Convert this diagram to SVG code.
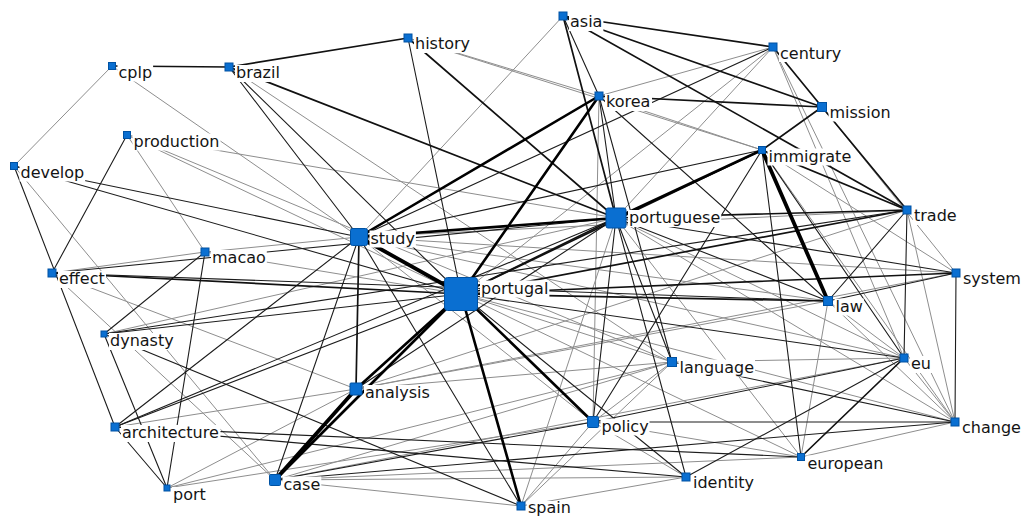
<svg xmlns="http://www.w3.org/2000/svg" width="1022" height="517" viewBox="0 0 1022 517">
<style>
line{stroke-linecap:round}
.g{stroke:#8e8e8e;stroke-width:1}
.t{stroke:#1c1c1c;stroke-width:1.1}
.m{stroke:#111;stroke-width:1.7}
.h{stroke:#000;stroke-width:2.6}
.x{stroke:#000;stroke-width:3.8}
.n{fill:#0a6fd1;stroke:#0052a3;stroke-width:1}
.lb{fill:#fff}
text{font-family:"DejaVu Sans",Verdana,sans-serif;font-size:16px;fill:#141414}
</style>
<rect width="1022" height="517" fill="#fff"/>
<g id="edges">
<line class="g" x1="112" y1="66" x2="14" y2="166"/>
<line class="g" x1="112" y1="66" x2="359" y2="237"/>
<line class="g" x1="229" y1="67" x2="672" y2="362"/>
<line class="g" x1="408" y1="38" x2="762" y2="150"/>
<line class="g" x1="563" y1="16" x2="359" y2="237"/>
<line class="g" x1="773" y1="47" x2="599" y2="96"/>
<line class="g" x1="773" y1="47" x2="461" y2="294"/>
<line class="g" x1="773" y1="47" x2="616" y2="218"/>
<line class="g" x1="773" y1="47" x2="904" y2="358"/>
<line class="g" x1="773" y1="47" x2="955" y2="422"/>
<line class="g" x1="599" y1="96" x2="408" y2="38"/>
<line class="g" x1="599" y1="96" x2="762" y2="150"/>
<line class="g" x1="599" y1="96" x2="593" y2="422"/>
<line class="g" x1="822" y1="107" x2="956" y2="273"/>
<line class="g" x1="762" y1="150" x2="956" y2="273"/>
<line class="g" x1="762" y1="150" x2="955" y2="422"/>
<line class="g" x1="127" y1="135" x2="205" y2="252"/>
<line class="g" x1="127" y1="135" x2="461" y2="294"/>
<line class="g" x1="127" y1="135" x2="672" y2="362"/>
<line class="g" x1="127" y1="135" x2="616" y2="218"/>
<line class="g" x1="14" y1="166" x2="275" y2="480"/>
<line class="g" x1="52" y1="273" x2="205" y2="252"/>
<line class="g" x1="52" y1="273" x2="275" y2="480"/>
<line class="g" x1="52" y1="273" x2="356" y2="389"/>
<line class="g" x1="205" y1="252" x2="359" y2="237"/>
<line class="g" x1="205" y1="252" x2="461" y2="294"/>
<line class="g" x1="104" y1="334" x2="616" y2="218"/>
<line class="g" x1="115" y1="427" x2="356" y2="389"/>
<line class="g" x1="167" y1="488" x2="356" y2="389"/>
<line class="g" x1="167" y1="488" x2="672" y2="362"/>
<line class="g" x1="167" y1="488" x2="593" y2="422"/>
<line class="g" x1="359" y1="237" x2="904" y2="358"/>
<line class="g" x1="359" y1="237" x2="593" y2="422"/>
<line class="g" x1="359" y1="237" x2="907" y2="210"/>
<line class="g" x1="359" y1="237" x2="956" y2="273"/>
<line class="g" x1="359" y1="237" x2="828" y2="301"/>
<line class="g" x1="616" y1="218" x2="904" y2="358"/>
<line class="g" x1="616" y1="218" x2="955" y2="422"/>
<line class="g" x1="616" y1="218" x2="801" y2="457"/>
<line class="g" x1="616" y1="218" x2="521" y2="506"/>
<line class="g" x1="461" y1="294" x2="955" y2="422"/>
<line class="g" x1="461" y1="294" x2="801" y2="457"/>
<line class="g" x1="461" y1="294" x2="672" y2="362"/>
<line class="g" x1="356" y1="389" x2="828" y2="301"/>
<line class="g" x1="356" y1="389" x2="672" y2="362"/>
<line class="g" x1="356" y1="389" x2="907" y2="210"/>
<line class="g" x1="356" y1="389" x2="956" y2="273"/>
<line class="g" x1="275" y1="480" x2="672" y2="362"/>
<line class="g" x1="275" y1="480" x2="904" y2="358"/>
<line class="g" x1="275" y1="480" x2="801" y2="457"/>
<line class="g" x1="275" y1="480" x2="686" y2="477"/>
<line class="g" x1="275" y1="480" x2="521" y2="506"/>
<line class="g" x1="521" y1="506" x2="593" y2="422"/>
<line class="g" x1="521" y1="506" x2="672" y2="362"/>
<line class="g" x1="521" y1="506" x2="686" y2="477"/>
<line class="g" x1="593" y1="422" x2="686" y2="477"/>
<line class="g" x1="593" y1="422" x2="801" y2="457"/>
<line class="g" x1="672" y1="362" x2="904" y2="358"/>
<line class="g" x1="672" y1="362" x2="593" y2="422"/>
<line class="g" x1="801" y1="457" x2="955" y2="422"/>
<line class="g" x1="801" y1="457" x2="828" y2="301"/>
<line class="g" x1="904" y1="358" x2="955" y2="422"/>
<line class="g" x1="904" y1="358" x2="828" y2="301"/>
<line class="g" x1="955" y1="422" x2="907" y2="210"/>
<line class="g" x1="955" y1="422" x2="828" y2="301"/>
<line class="t" x1="229" y1="67" x2="359" y2="237"/>
<line class="t" x1="229" y1="67" x2="461" y2="294"/>
<line class="t" x1="408" y1="38" x2="461" y2="294"/>
<line class="t" x1="563" y1="16" x2="599" y2="96"/>
<line class="t" x1="773" y1="47" x2="359" y2="237"/>
<line class="t" x1="599" y1="96" x2="616" y2="218"/>
<line class="t" x1="599" y1="96" x2="672" y2="362"/>
<line class="t" x1="599" y1="96" x2="828" y2="301"/>
<line class="t" x1="762" y1="150" x2="359" y2="237"/>
<line class="t" x1="762" y1="150" x2="904" y2="358"/>
<line class="t" x1="762" y1="150" x2="801" y2="457"/>
<line class="t" x1="762" y1="150" x2="593" y2="422"/>
<line class="t" x1="127" y1="135" x2="52" y2="273"/>
<line class="t" x1="14" y1="166" x2="115" y2="427"/>
<line class="t" x1="14" y1="166" x2="461" y2="294"/>
<line class="t" x1="14" y1="166" x2="359" y2="237"/>
<line class="t" x1="52" y1="273" x2="828" y2="301"/>
<line class="t" x1="205" y1="252" x2="104" y2="334"/>
<line class="t" x1="205" y1="252" x2="167" y2="488"/>
<line class="t" x1="104" y1="334" x2="167" y2="488"/>
<line class="t" x1="104" y1="334" x2="461" y2="294"/>
<line class="t" x1="104" y1="334" x2="907" y2="210"/>
<line class="t" x1="104" y1="334" x2="521" y2="506"/>
<line class="t" x1="115" y1="427" x2="167" y2="488"/>
<line class="t" x1="115" y1="427" x2="359" y2="237"/>
<line class="t" x1="115" y1="427" x2="461" y2="294"/>
<line class="t" x1="115" y1="427" x2="616" y2="218"/>
<line class="t" x1="115" y1="427" x2="686" y2="477"/>
<line class="t" x1="115" y1="427" x2="801" y2="457"/>
<line class="t" x1="359" y1="237" x2="275" y2="480"/>
<line class="t" x1="359" y1="237" x2="521" y2="506"/>
<line class="t" x1="616" y1="218" x2="956" y2="273"/>
<line class="t" x1="616" y1="218" x2="828" y2="301"/>
<line class="t" x1="616" y1="218" x2="593" y2="422"/>
<line class="t" x1="616" y1="218" x2="686" y2="477"/>
<line class="t" x1="616" y1="218" x2="672" y2="362"/>
<line class="t" x1="616" y1="218" x2="356" y2="389"/>
<line class="t" x1="616" y1="218" x2="52" y2="273"/>
<line class="t" x1="461" y1="294" x2="904" y2="358"/>
<line class="t" x1="461" y1="294" x2="686" y2="477"/>
<line class="t" x1="275" y1="480" x2="593" y2="422"/>
<line class="t" x1="275" y1="480" x2="955" y2="422"/>
<line class="t" x1="593" y1="422" x2="955" y2="422"/>
<line class="t" x1="593" y1="422" x2="904" y2="358"/>
<line class="t" x1="672" y1="362" x2="955" y2="422"/>
<line class="t" x1="686" y1="477" x2="904" y2="358"/>
<line class="t" x1="904" y1="358" x2="907" y2="210"/>
<line class="t" x1="955" y1="422" x2="956" y2="273"/>
<line class="t" x1="828" y1="301" x2="907" y2="210"/>
<line class="t" x1="828" y1="301" x2="956" y2="273"/>
<line class="m" x1="112" y1="66" x2="229" y2="67"/>
<line class="m" x1="229" y1="67" x2="408" y2="38"/>
<line class="m" x1="229" y1="67" x2="616" y2="218"/>
<line class="m" x1="408" y1="38" x2="616" y2="218"/>
<line class="m" x1="563" y1="16" x2="616" y2="218"/>
<line class="m" x1="563" y1="16" x2="773" y2="47"/>
<line class="m" x1="563" y1="16" x2="822" y2="107"/>
<line class="m" x1="563" y1="16" x2="907" y2="210"/>
<line class="m" x1="773" y1="47" x2="822" y2="107"/>
<line class="m" x1="599" y1="96" x2="822" y2="107"/>
<line class="m" x1="822" y1="107" x2="762" y2="150"/>
<line class="m" x1="822" y1="107" x2="907" y2="210"/>
<line class="m" x1="762" y1="150" x2="461" y2="294"/>
<line class="m" x1="762" y1="150" x2="907" y2="210"/>
<line class="m" x1="52" y1="273" x2="461" y2="294"/>
<line class="m" x1="359" y1="237" x2="356" y2="389"/>
<line class="m" x1="616" y1="218" x2="461" y2="294"/>
<line class="m" x1="616" y1="218" x2="907" y2="210"/>
<line class="m" x1="461" y1="294" x2="828" y2="301"/>
<line class="m" x1="461" y1="294" x2="956" y2="273"/>
<line class="m" x1="461" y1="294" x2="907" y2="210"/>
<line class="m" x1="801" y1="457" x2="904" y2="358"/>
<line class="h" x1="599" y1="96" x2="461" y2="294"/>
<line class="h" x1="599" y1="96" x2="359" y2="237"/>
<line class="h" x1="762" y1="150" x2="616" y2="218"/>
<line class="h" x1="359" y1="237" x2="616" y2="218"/>
<line class="h" x1="461" y1="294" x2="356" y2="389"/>
<line class="h" x1="461" y1="294" x2="275" y2="480"/>
<line class="h" x1="461" y1="294" x2="521" y2="506"/>
<line class="h" x1="461" y1="294" x2="593" y2="422"/>
<line class="x" x1="762" y1="150" x2="828" y2="301"/>
<line class="x" x1="359" y1="237" x2="461" y2="294"/>
<line class="x" x1="356" y1="389" x2="275" y2="480"/>
</g>
<g id="n-asia"><rect class="lb" x="569" y="14" width="34.4" height="17"/><text x="570" y="27">asia</text><rect class="n" x="559" y="12" width="8" height="8"/></g>
<g id="n-history"><rect class="lb" x="414" y="36" width="57" height="17"/><text x="415" y="49">history</text><rect class="n" x="404" y="34" width="8" height="8"/></g>
<g id="n-century"><rect class="lb" x="779" y="45" width="63" height="17"/><text x="780" y="58.5">century</text><rect class="n" x="769" y="43" width="8" height="8"/></g>
<g id="n-cplp"><rect class="lb" x="117.5" y="64.5" width="35.6" height="17"/><text x="118.5" y="77.5">cplp</text><rect class="n" x="108.5" y="62.5" width="7" height="7"/></g>
<g id="n-brazil"><rect class="lb" x="235" y="65" width="46" height="17"/><text x="236" y="78">brazil</text><rect class="n" x="225" y="63" width="8" height="8"/></g>
<g id="n-korea"><rect class="lb" x="605" y="94" width="47" height="17"/><text x="606" y="107">korea</text><rect class="n" x="595" y="92" width="8" height="8"/></g>
<g id="n-mission"><rect class="lb" x="828.5" y="104.5" width="63" height="17"/><text x="829.5" y="117.5">mission</text><rect class="n" x="817.5" y="102.5" width="9" height="9"/></g>
<g id="n-production"><rect class="lb" x="132.5" y="133.5" width="88" height="17"/><text x="133.5" y="146.5">production</text><rect class="n" x="123.5" y="131.5" width="7" height="7"/></g>
<g id="n-immigrate"><rect class="lb" x="767.5" y="148.5" width="84.7" height="17"/><text x="768.5" y="161.5">immigrate</text><rect class="n" x="758.5" y="146.5" width="7" height="7"/></g>
<g id="n-develop"><rect class="lb" x="19.5" y="164.5" width="65.7" height="17"/><text x="20.5" y="177.5">develop</text><rect class="n" x="10.5" y="162.5" width="7" height="7"/></g>
<g id="n-trade"><rect class="lb" x="913" y="208" width="44.7" height="17"/><text x="914" y="221">trade</text><rect class="n" x="903" y="206" width="8" height="8"/></g>
<g id="n-portuguese"><rect class="lb" x="628" y="210" width="93.3" height="17"/><text x="629" y="223">portuguese</text><rect class="n" x="606" y="208" width="20" height="20" rx="2"/></g>
<g id="n-study"><rect class="lb" x="369.5" y="230.5" width="46.4" height="17"/><text x="370.5" y="243.5">study</text><rect class="n" x="350.5" y="228.5" width="17" height="17" rx="2"/></g>
<g id="n-macao"><rect class="lb" x="211" y="250" width="55.8" height="17"/><text x="212" y="263">macao</text><rect class="n" x="201" y="248" width="8" height="8"/></g>
<g id="n-effect"><rect class="lb" x="58" y="271" width="48" height="17"/><text x="59" y="284">effect</text><rect class="n" x="48" y="269" width="8" height="8"/></g>
<g id="n-system"><rect class="lb" x="962" y="271" width="59.8" height="17"/><text x="963" y="284">system</text><rect class="n" x="952" y="269" width="8" height="8"/></g>
<g id="n-portugal"><rect class="lb" x="480" y="280.5" width="69.4" height="17"/><text x="481" y="293.5">portugal</text><rect class="n" x="444.5" y="277.5" width="33" height="33" rx="3"/></g>
<g id="n-law"><rect class="lb" x="834.5" y="298.5" width="29.3" height="17"/><text x="835.5" y="311.5">law</text><rect class="n" x="823.5" y="296.5" width="9" height="9"/></g>
<g id="n-dynasty"><rect class="lb" x="109" y="333" width="65.7" height="17"/><text x="110" y="346">dynasty</text><rect class="n" x="101" y="331" width="6" height="6"/></g>
<g id="n-eu"><rect class="lb" x="910" y="356" width="22" height="17"/><text x="911" y="369">eu</text><rect class="n" x="900" y="354" width="8" height="8"/></g>
<g id="n-language"><rect class="lb" x="678.5" y="359.5" width="76.5" height="17"/><text x="679.5" y="372.5">language</text><rect class="n" x="667.5" y="357.5" width="9" height="9"/></g>
<g id="n-analysis"><rect class="lb" x="364" y="385" width="66.8" height="17"/><text x="365" y="398">analysis</text><rect class="n" x="350" y="383" width="12" height="12" rx="1"/></g>
<g id="n-change"><rect class="lb" x="961" y="420" width="60.9" height="17"/><text x="962" y="433">change</text><rect class="n" x="951" y="418" width="8" height="8"/></g>
<g id="n-architecture"><rect class="lb" x="121" y="425" width="99.5" height="17"/><text x="122" y="438">architecture</text><rect class="n" x="111" y="423" width="8" height="8"/></g>
<g id="n-policy"><rect class="lb" x="600.5" y="418.5" width="49" height="17"/><text x="601.5" y="431.5">policy</text><rect class="n" x="587.5" y="416.5" width="11" height="11" rx="1"/></g>
<g id="n-european"><rect class="lb" x="806.5" y="455.5" width="78.3" height="17"/><text x="807.5" y="468.5">european</text><rect class="n" x="797.5" y="453.5" width="7" height="7"/></g>
<g id="n-port"><rect class="lb" x="172" y="487" width="34.8" height="17"/><text x="173" y="500">port</text><rect class="n" x="164" y="485" width="6" height="6"/></g>
<g id="n-case"><rect class="lb" x="282.5" y="476.5" width="38.8" height="17"/><text x="283.5" y="489.5">case</text><rect class="n" x="269.5" y="474.5" width="11" height="11" rx="1"/></g>
<g id="n-identity"><rect class="lb" x="692" y="475" width="63" height="17"/><text x="693" y="488">identity</text><rect class="n" x="682" y="473" width="8" height="8"/></g>
<g id="n-spain"><rect class="lb" x="527" y="501" width="44.9" height="16"/><text x="528" y="513">spain</text><rect class="n" x="517" y="502" width="8" height="8"/></g>
</svg>
